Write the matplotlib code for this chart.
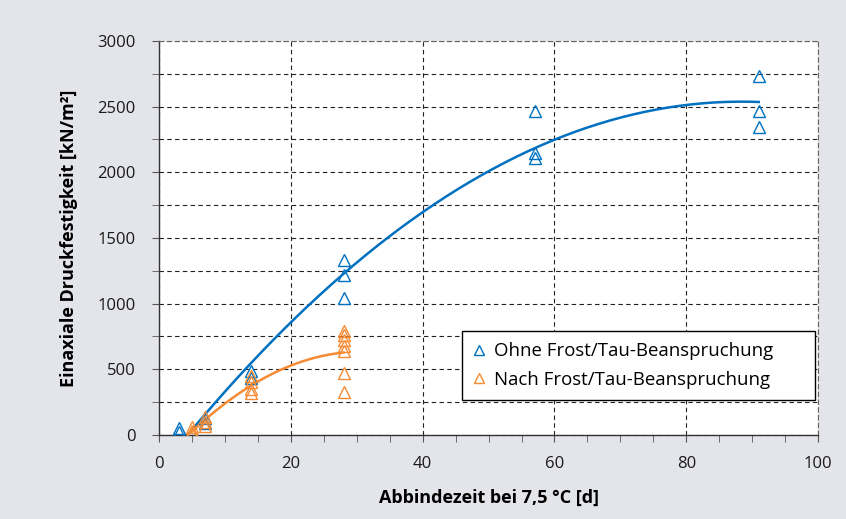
import numpy as np
import matplotlib.pyplot as plt
from matplotlib.ticker import MultipleLocator

# Abbindezeit [d] und Druckfestigkeit [kN/m²]
ohne_x = [3, 3, 7, 7, 14, 14, 28, 28, 28, 57, 57, 57, 91, 91, 91]
ohne_y = [55, 25, 130, 90, 490, 430, 1330, 1215, 1045, 2470, 2150, 2110, 2735, 2470, 2345]

nach_x = [5, 5, 5, 7, 7, 7, 14, 14, 14, 14, 28, 28, 28, 28, 28, 28, 28]
nach_y = [60, 30, 15, 140, 100, 70, 450, 400, 350, 320, 790, 760, 720, 680, 640, 470, 330]

label_ohne = 'Ohne Frost/Tau-Beanspruchung'
label_nach = 'Nach Frost/Tau-Beanspruchung'

blue = '#0070C0'
orange = '#F68B33'
bg = '#E4E5EA'

plt.rcParams['font.family'] = ['Open Sans', 'DejaVu Sans']

fig = plt.figure(figsize=(8.46, 5.19), dpi=100, facecolor=bg)
ax = fig.add_axes([0.188, 0.162, 0.779, 0.759])
ax.set_facecolor('white')


def trend(x, y, color):
    # polynomische Trendlinie 2. Ordnung über den Datenbereich
    coef = np.polyfit(x, y, 2)
    xs = np.linspace(min(x), max(x), 200)
    ax.plot(xs, np.polyval(coef, xs), color=color, lw=1.8, zorder=2)


trend(ohne_x, ohne_y, blue)
trend(nach_x, nach_y, orange)

ax.plot(ohne_x, ohne_y, ls='none', marker='^', ms=9, mfc='none', mec=blue, mew=1.0,
        label=label_ohne, zorder=3)
ax.plot(nach_x, nach_y, ls='none', marker='^', ms=9, mfc='none', mec=orange, mew=1.0,
        label=label_nach, zorder=3)

ax.set_xlim(0, 100)
ax.set_ylim(0, 3000)
ax.xaxis.set_major_locator(MultipleLocator(20))
ax.xaxis.set_minor_locator(MultipleLocator(5))
ax.yaxis.set_major_locator(MultipleLocator(500))
ax.yaxis.set_minor_locator(MultipleLocator(250))

ax.grid(True, which='major', axis='x', color='#222222', ls=(0, (4, 3)), lw=0.8)
ax.grid(True, which='both', axis='y', color='#222222', ls=(0, (4, 3)), lw=0.8)
ax.set_axisbelow(True)

for side in ['top', 'right']:
    ax.spines[side].set_color('#666666')
    ax.spines[side].set_linestyle((0, (4, 3)))
    ax.spines[side].set_linewidth(0.8)
for side in ['left', 'bottom']:
    ax.spines[side].set_color('#333333')
    ax.spines[side].set_linewidth(1.0)

ax.tick_params(which='both', direction='out', color='#555555', length=5,
               labelsize=12, labelcolor='#1a1a1a')
ax.tick_params(axis='x', pad=10)
ax.tick_params(axis='y', pad=12)

ax.set_xlabel('Abbindezeit bei 7,5 °C [d]', fontsize=13, fontweight='bold', labelpad=12)
ax.set_ylabel('Einaxiale Druckfestigkeit [kN/m²]', fontsize=13, fontweight='bold', labelpad=14)

leg = ax.legend(loc='center', bbox_to_anchor=(0.46, 0.089, 0.536, 0.175), mode='expand',
                fontsize=13.4, frameon=True, fancybox=False, edgecolor='black', framealpha=1,
                handlelength=0.6, handletextpad=0.5, markerscale=0.8, borderpad=0.6,
                labelspacing=0.55, borderaxespad=0)
leg.get_frame().set_linewidth(1.0)

fig.savefig('out.png', dpi=100, facecolor=bg)
